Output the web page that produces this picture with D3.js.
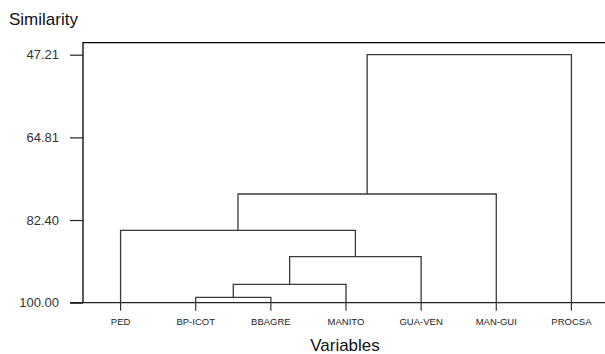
<!DOCTYPE html>
<html>
<head>
<meta charset="utf-8">
<script src="https://cdn.jsdelivr.net/npm/d3@7"></script>
<style>
  html, body { margin: 0; padding: 0; background: #fff; }
  svg { display: block; font-family: "Liberation Sans", Arial, sans-serif; }
</style>
</head>
<body>
<svg id="chart" width="605" height="354"></svg>
<script>
// ---- Data ----
const leaves = ["PED", "BP-ICOT", "BBAGRE", "MANITO", "GUA-VEN", "MAN-GUI", "PROCSA"];
// merges: cluster name, left child, right child, similarity level
const mergeNames  = ["C1", "C2", "C3", "C4", "C5", "C6"];
const mergeLeft   = ["BP-ICOT", "C1", "C2", "PED", "C4", "C5"];
const mergeRight  = ["BBAGRE", "MANITO", "GUA-VEN", "C3", "MAN-GUI", "PROCSA"];
const mergeLevel  = [98.85, 96.08, 90.21, 84.59, 76.86, 47.21];
const tickValues  = [47.21, 64.81, 82.40, 100.00];
const tickLabels  = ["47.21", "64.81", "82.40", "100.00"];
const yTitle = "Similarity";
const xTitle = "Variables";

// ---- Layout ----
const svg = d3.select("#chart");
const frame = { left: 83, top: 42.7, bottom: 302.7, right: 605 };

const x = d3.scalePoint().domain(leaves).range([83, 609]).padding(0.5);
const y = d3.scaleLinear().domain([47.21, 100]).range([54.7, 302.7]);

// positions of nodes
const pos = {};
leaves.forEach(l => pos[l] = { x: x(l), y: y(100) });
mergeNames.forEach((n, i) => {
  const a = pos[mergeLeft[i]], b = pos[mergeRight[i]];
  pos[n] = { x: (a.x + b.x) / 2, y: y(mergeLevel[i]), a, b };
});

// frame
svg.append("path")
  .attr("d", `M${frame.left},${frame.bottom} V${frame.top} H${frame.right}`)
  .attr("fill", "none").attr("stroke", "#000").attr("stroke-width", 1.3);
svg.append("line")
  .attr("x1", 70).attr("x2", frame.right)
  .attr("y1", y(100)).attr("y2", y(100))
  .attr("stroke", "#222").attr("stroke-width", 1.3);

// y axis
const yAxis = d3.axisLeft(y)
  .tickValues(tickValues)
  .tickFormat((d, i) => tickLabels[i])
  .tickSize(13).tickPadding(11);
const ga = svg.append("g").attr("transform", `translate(${frame.left},0)`).call(yAxis);
ga.select(".domain").remove();
ga.selectAll(".tick line").attr("stroke", "#222").attr("stroke-width", 1.2);
ga.selectAll(".tick text")
  .attr("font-size", 13).attr("fill", "#333")
  .attr("font-family", "'Liberation Sans', Arial, sans-serif");

// leaf stubs (extend below axis)
svg.append("g").selectAll("line").data(leaves).join("line")
  .attr("x1", d => x(d)).attr("x2", d => x(d))
  .attr("y1", y(100)).attr("y2", y(100) + 8)
  .attr("stroke", "#333").attr("stroke-width", 1.2);

// dendrogram links
const links = svg.append("g").attr("fill", "none").attr("stroke", "#3a3a3a").attr("stroke-width", 1.3);
mergeNames.forEach(n => {
  const p = pos[n];
  links.append("path")
    .attr("d", `M${p.a.x},${p.a.y} V${p.y} H${p.b.x} V${p.b.y}`);
});

// leaf labels
svg.append("g").selectAll("text").data(leaves).join("text")
  .attr("x", d => x(d)).attr("y", 325)
  .attr("text-anchor", "middle")
  .attr("font-size", 9.5).attr("fill", "#222")
  .text(d => d);

// titles
svg.append("text").attr("x", 9).attr("y", 25)
  .attr("font-size", 17).attr("fill", "#111").text(yTitle);
svg.append("text").attr("x", 345).attr("y", 351)
  .attr("text-anchor", "middle")
  .attr("font-size", 17).attr("fill", "#111").text(xTitle);
</script>
</body>
</html>
